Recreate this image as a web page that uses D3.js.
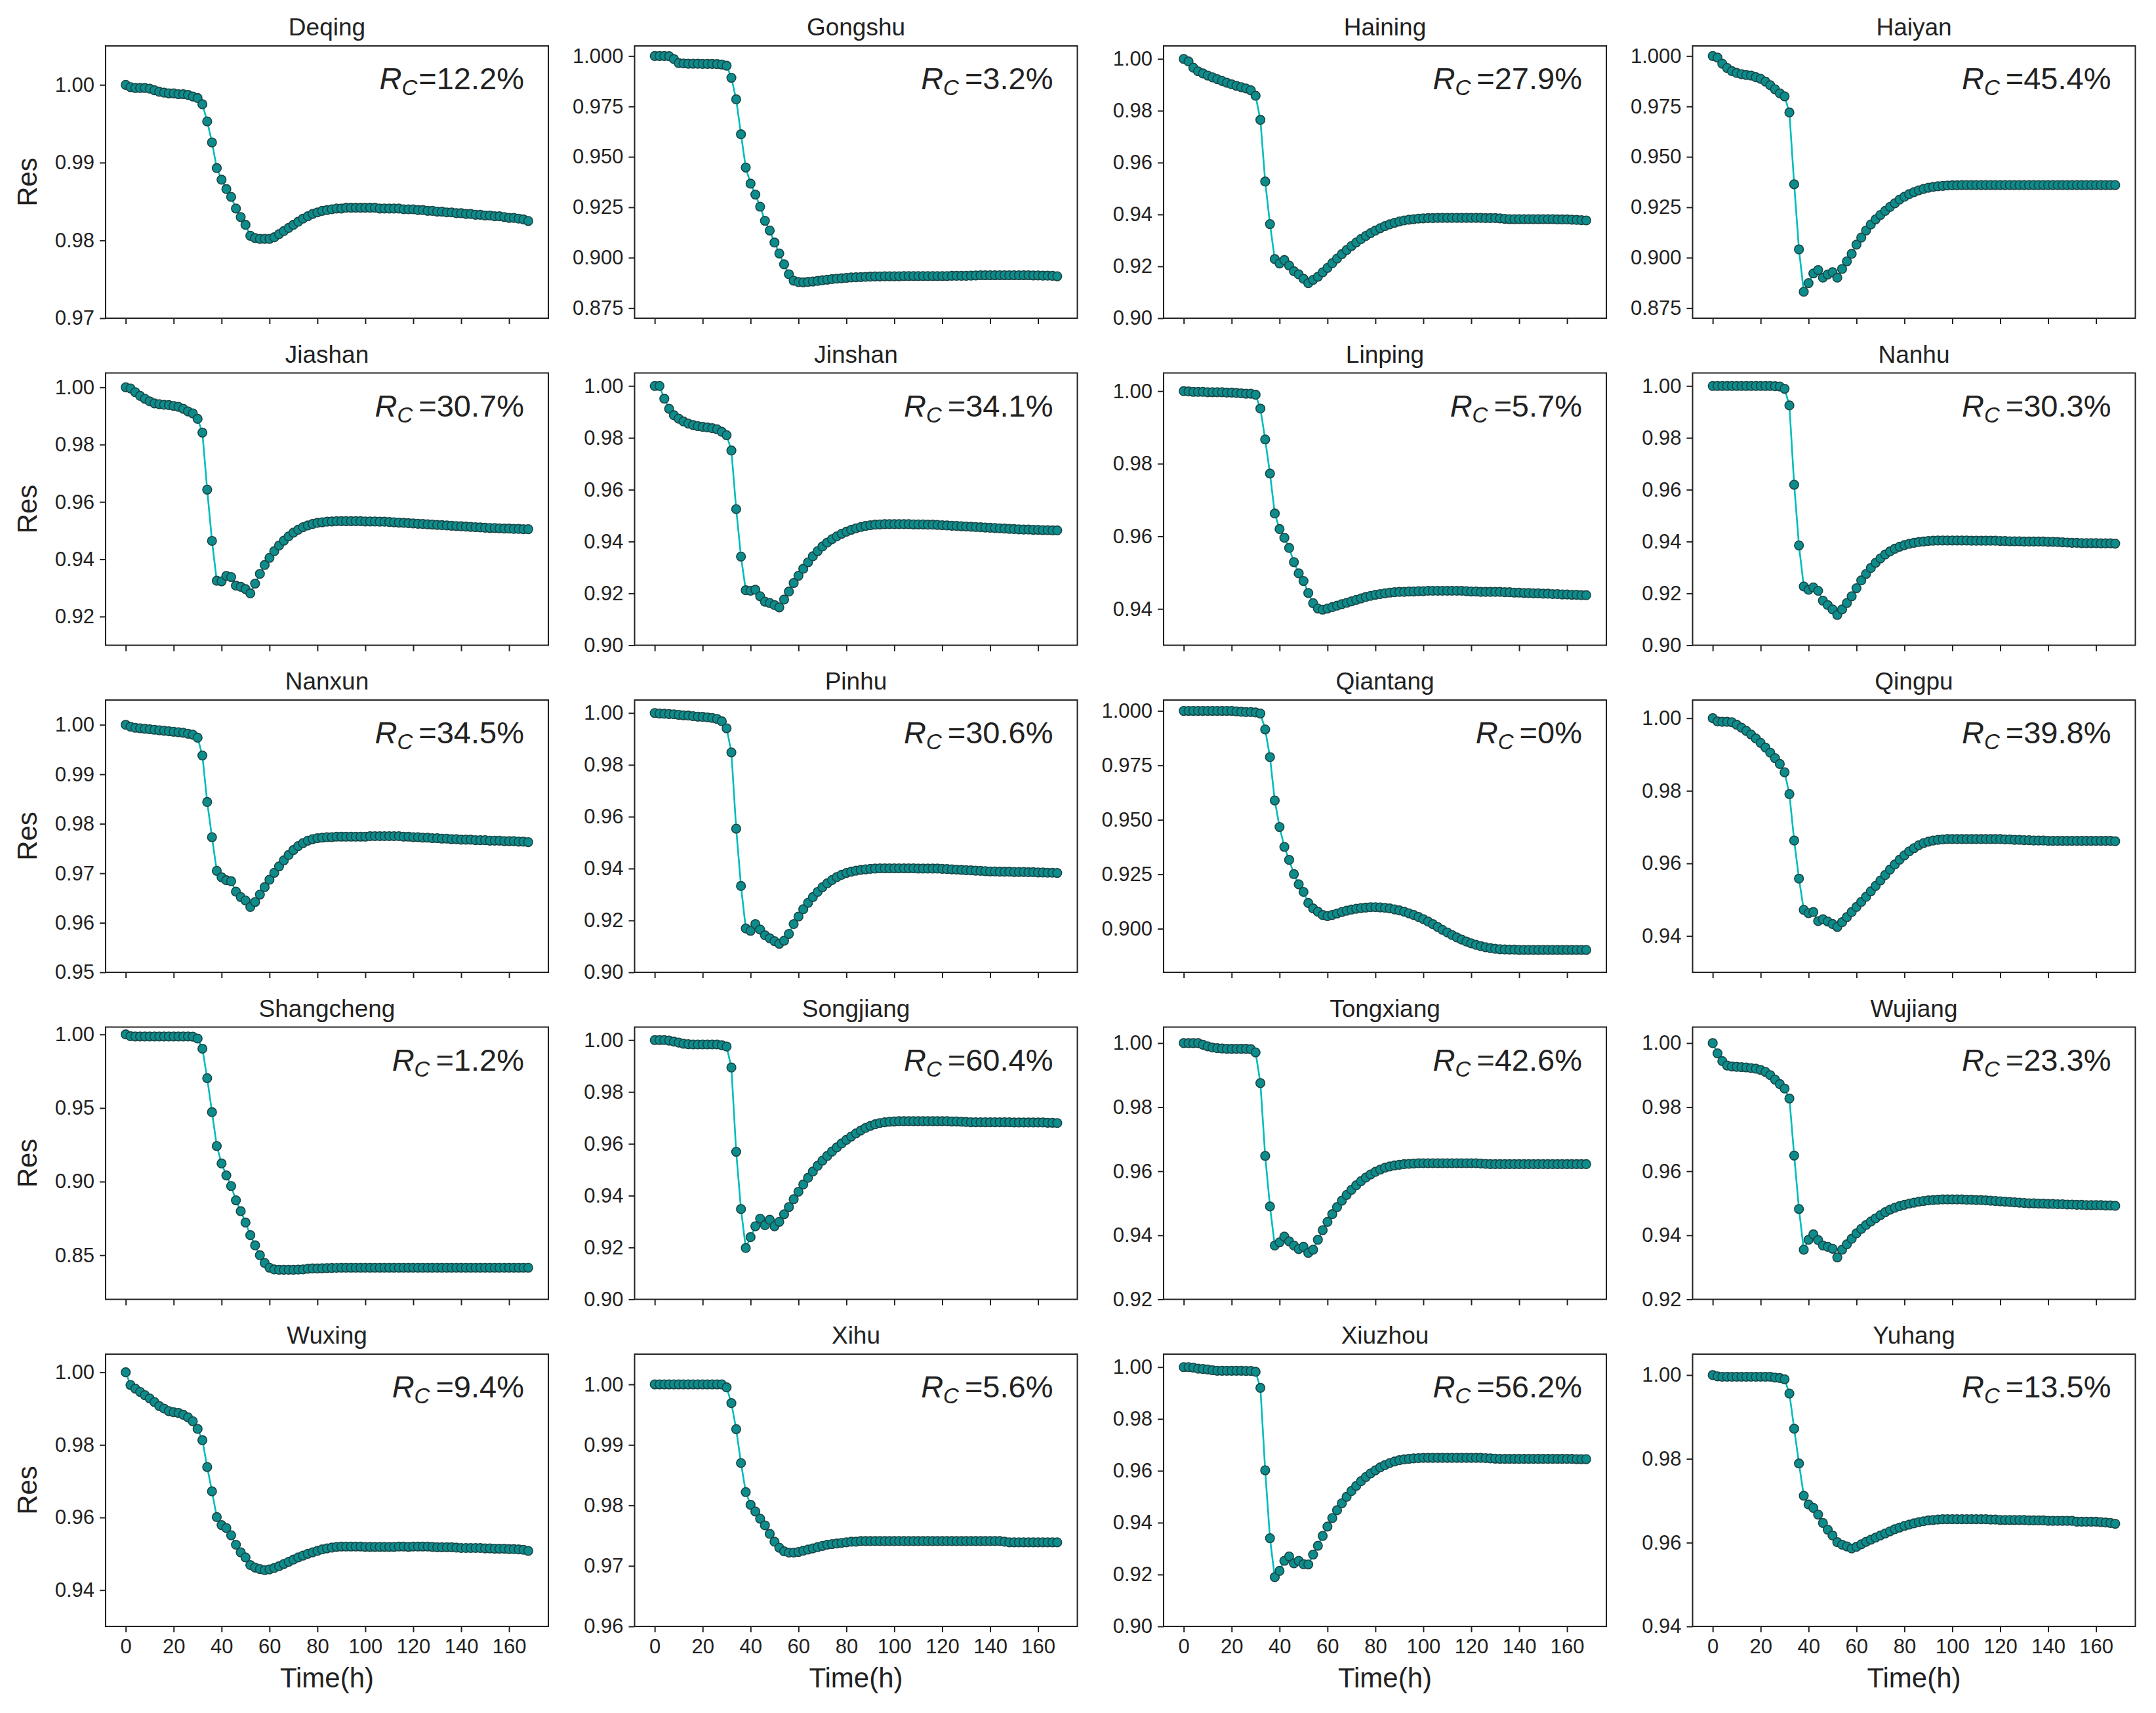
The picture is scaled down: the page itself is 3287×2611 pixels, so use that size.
<!DOCTYPE html>
<html>
<head>
<meta charset="utf-8">
<script src="https://cdn.jsdelivr.net/npm/d3@7"></script>
<style>
  body { margin: 0; background: #fff; }
  text { font-family: "Liberation Sans", Arial, sans-serif; fill: #222; }
</style>
</head>
<body>
<div id="plot"></div>
<script>
// Time axis (hours), one sample every 2 h
var hours = [0,2,4,6,8,10,12,14,16,18,20,22,24,26,28,30,32,34,36,38,40,42,44,46,48,50,52,54,56,58,
  60,62,64,66,68,70,72,74,76,78,80,82,84,86,88,90,92,94,96,98,100,102,104,106,108,110,112,114,116,118,
  120,122,124,126,128,130,132,134,136,138,140,142,144,146,148,150,152,154,156,158,160,162,164,166,168];

var regions = ["Deqing","Gongshu","Haining","Haiyan","Jiashan","Jinshan","Linping","Nanhu","Nanxun","Pinhu",
  "Qiantang","Qingpu","Shangcheng","Songjiang","Tongxiang","Wujiang","Wuxing","Xihu","Xiuzhou","Yuhang"];

var rcValues = ["12.2%","3.2%","27.9%","45.4%","30.7%","34.1%","5.7%","30.3%","34.5%","30.6%",
  "0%","39.8%","1.2%","60.4%","42.6%","23.3%","9.4%","5.6%","56.2%","13.5%"];

// lower limit of each y axis
var yBottom = [0.97,0.87,0.90,0.87,0.91,0.90,0.93,0.90,0.95,0.90,0.88,0.93,0.82,0.90,0.92,0.92,0.93,0.96,0.90,0.94];

var yTickSets = [
  [0.97,0.98,0.99,1.00],
  [0.875,0.900,0.925,0.950,0.975,1.000],
  [0.90,0.92,0.94,0.96,0.98,1.00],
  [0.875,0.900,0.925,0.950,0.975,1.000],
  [0.92,0.94,0.96,0.98,1.00],
  [0.90,0.92,0.94,0.96,0.98,1.00],
  [0.94,0.96,0.98,1.00],
  [0.90,0.92,0.94,0.96,0.98,1.00],
  [0.95,0.96,0.97,0.98,0.99,1.00],
  [0.90,0.92,0.94,0.96,0.98,1.00],
  [0.900,0.925,0.950,0.975,1.000],
  [0.94,0.96,0.98,1.00],
  [0.85,0.90,0.95,1.00],
  [0.90,0.92,0.94,0.96,0.98,1.00],
  [0.92,0.94,0.96,0.98,1.00],
  [0.92,0.94,0.96,0.98,1.00],
  [0.94,0.96,0.98,1.00],
  [0.96,0.97,0.98,0.99,1.00],
  [0.90,0.92,0.94,0.96,0.98,1.00],
  [0.94,0.96,0.98,1.00]
];
var yTickDecimals = [2,3,2,3,2,2,2,2,2,2,3,2,2,2,2,2,2,2,2,2];
var xTicks = [0,20,40,60,80,100,120,140,160];

var deqing = [
  1.0000,0.9997,0.9996,0.9996,0.9996,0.9995,0.9993,0.9991,0.9990,0.9989,
  0.9989,0.9988,0.9988,0.9987,0.9985,0.9983,0.9975,0.9953,0.9926,0.9893,
  0.9878,0.9866,0.9856,0.9841,0.9830,0.9820,0.9806,0.9803,0.9802,0.9802,
  0.9802,0.9804,0.9808,0.9812,0.9816,0.9820,0.9824,0.9828,0.9831,0.9834,
  0.9836,0.9838,0.9839,0.9840,0.9841,0.9841,0.9842,0.9842,0.9842,0.9842,
  0.9842,0.9842,0.9842,0.9841,0.9841,0.9841,0.9841,0.9841,0.9840,0.9840,
  0.9840,0.9839,0.9839,0.9838,0.9838,0.9837,0.9837,0.9836,0.9836,0.9835,
  0.9835,0.9834,0.9834,0.9833,0.9833,0.9832,0.9832,0.9831,0.9831,0.9830,
  0.9829,0.9829,0.9828,0.9827,0.9825];
var gongshu = [
  1.0000,1.0000,1.0000,0.9999,0.9985,0.9965,0.9963,0.9962,0.9962,0.9962,
  0.9961,0.9961,0.9961,0.9960,0.9958,0.9952,0.9892,0.9785,0.9612,0.9447,
  0.9367,0.9313,0.9253,0.9183,0.9135,0.9075,0.9021,0.8967,0.8918,0.8886,
  0.8879,0.8878,0.8880,0.8882,0.8885,0.8888,0.8891,0.8894,0.8896,0.8898,
  0.8900,0.8902,0.8903,0.8904,0.8905,0.8906,0.8907,0.8907,0.8908,0.8908,
  0.8908,0.8908,0.8909,0.8909,0.8909,0.8909,0.8909,0.8909,0.8909,0.8909,
  0.8909,0.8909,0.8910,0.8910,0.8910,0.8910,0.8911,0.8912,0.8913,0.8913,
  0.8913,0.8913,0.8913,0.8913,0.8913,0.8913,0.8913,0.8913,0.8913,0.8912,
  0.8912,0.8911,0.8911,0.8910,0.8908];
var haining = [
  1.0000,0.9990,0.9966,0.9952,0.9944,0.9936,0.9929,0.9922,0.9915,0.9908,
  0.9902,0.9896,0.9891,0.9886,0.9879,0.9858,0.9765,0.9527,0.9363,0.9228,
  0.9211,0.9224,0.9203,0.9181,0.9169,0.9152,0.9135,0.9148,0.9160,0.9177,
  0.9194,0.9212,0.9230,0.9247,0.9263,0.9278,0.9292,0.9305,0.9317,0.9328,
  0.9338,0.9347,0.9355,0.9362,0.9368,0.9373,0.9377,0.9380,0.9382,0.9384,
  0.9385,0.9386,0.9386,0.9387,0.9387,0.9387,0.9387,0.9387,0.9387,0.9387,
  0.9387,0.9387,0.9387,0.9386,0.9386,0.9386,0.9385,0.9383,0.9382,0.9382,
  0.9382,0.9382,0.9382,0.9382,0.9382,0.9382,0.9382,0.9382,0.9381,0.9381,
  0.9381,0.9380,0.9379,0.9378,0.9377];
var haiyan = [
  1.0000,0.9992,0.9962,0.9941,0.9925,0.9916,0.9910,0.9906,0.9903,0.9895,
  0.9887,0.9873,0.9855,0.9835,0.9815,0.9800,0.9720,0.9364,0.9041,0.8831,
  0.8874,0.8922,0.8939,0.8901,0.8917,0.8928,0.8901,0.8944,0.8982,0.9019,
  0.9065,0.9100,0.9135,0.9165,0.9190,0.9212,0.9232,0.9252,0.9270,0.9288,
  0.9302,0.9315,0.9325,0.9334,0.9341,0.9347,0.9351,0.9354,0.9356,0.9358,
  0.9359,0.9359,0.9360,0.9360,0.9360,0.9360,0.9360,0.9360,0.9360,0.9360,
  0.9360,0.9360,0.9360,0.9360,0.9360,0.9360,0.9360,0.9360,0.9360,0.9360,
  0.9360,0.9360,0.9360,0.9360,0.9360,0.9360,0.9360,0.9360,0.9360,0.9360,
  0.9360,0.9360,0.9360,0.9360,0.9360];
var jiashan = [
  1.0000,0.9996,0.9983,0.9970,0.9960,0.9951,0.9944,0.9941,0.9939,0.9938,
  0.9935,0.9932,0.9925,0.9916,0.9909,0.9890,0.9842,0.9643,0.9464,0.9325,
  0.9323,0.9342,0.9338,0.9308,0.9304,0.9296,0.9281,0.9315,0.9349,0.9380,
  0.9405,0.9428,0.9448,0.9465,0.9480,0.9493,0.9503,0.9512,0.9518,0.9523,
  0.9527,0.9529,0.9531,0.9532,0.9533,0.9533,0.9533,0.9533,0.9533,0.9533,
  0.9532,0.9532,0.9532,0.9531,0.9531,0.9530,0.9529,0.9528,0.9527,0.9526,
  0.9525,0.9524,0.9523,0.9522,0.9521,0.9520,0.9519,0.9518,0.9517,0.9516,
  0.9515,0.9514,0.9513,0.9512,0.9511,0.9510,0.9509,0.9509,0.9508,0.9507,
  0.9507,0.9506,0.9506,0.9505,0.9505];
var jinshan = [
  1.0000,1.0000,0.9951,0.9912,0.9887,0.9874,0.9863,0.9855,0.9849,0.9845,
  0.9842,0.9840,0.9837,0.9833,0.9823,0.9810,0.9751,0.9525,0.9342,0.9212,
  0.9210,0.9214,0.9189,0.9168,0.9163,0.9155,0.9146,0.9176,0.9207,0.9240,
  0.9268,0.9295,0.9320,0.9343,0.9363,0.9381,0.9396,0.9409,0.9420,0.9430,
  0.9438,0.9445,0.9451,0.9456,0.9460,0.9463,0.9465,0.9466,0.9467,0.9467,
  0.9467,0.9467,0.9467,0.9467,0.9466,0.9466,0.9466,0.9465,0.9465,0.9464,
  0.9463,0.9462,0.9461,0.9460,0.9459,0.9458,0.9457,0.9456,0.9455,0.9454,
  0.9453,0.9452,0.9451,0.9450,0.9449,0.9448,0.9447,0.9446,0.9446,0.9445,
  0.9445,0.9444,0.9444,0.9443,0.9443];
var linping = [
  1.0000,0.9999,0.9998,0.9998,0.9998,0.9997,0.9997,0.9997,0.9997,0.9996,
  0.9996,0.9995,0.9994,0.9993,0.9993,0.9990,0.9952,0.9867,0.9773,0.9663,
  0.9620,0.9596,0.9568,0.9529,0.9498,0.9477,0.9444,0.9416,0.9401,0.9398,
  0.9401,0.9405,0.9409,0.9413,0.9417,0.9421,0.9425,0.9429,0.9433,0.9436,
  0.9439,0.9441,0.9443,0.9445,0.9446,0.9447,0.9447,0.9448,0.9448,0.9449,
  0.9449,0.9450,0.9450,0.9450,0.9450,0.9450,0.9450,0.9450,0.9450,0.9449,
  0.9448,0.9448,0.9447,0.9447,0.9447,0.9447,0.9447,0.9446,0.9446,0.9445,
  0.9445,0.9444,0.9444,0.9443,0.9443,0.9442,0.9442,0.9441,0.9441,0.9440,
  0.9440,0.9439,0.9439,0.9438,0.9438];
var nanhu = [
  1.0000,1.0000,1.0000,1.0000,1.0000,1.0000,1.0000,1.0000,1.0000,1.0000,
  1.0000,1.0000,1.0000,0.9999,0.9998,0.9989,0.9925,0.9619,0.9385,0.9227,
  0.9214,0.9223,0.9210,0.9172,0.9155,0.9138,0.9117,0.9138,0.9163,0.9189,
  0.9220,0.9250,0.9275,0.9298,0.9318,0.9335,0.9350,0.9362,0.9372,0.9380,
  0.9386,0.9391,0.9395,0.9398,0.9400,0.9402,0.9403,0.9404,0.9404,0.9404,
  0.9404,0.9404,0.9404,0.9404,0.9403,0.9403,0.9403,0.9403,0.9403,0.9403,
  0.9402,0.9402,0.9401,0.9401,0.9401,0.9400,0.9400,0.9400,0.9400,0.9400,
  0.9399,0.9399,0.9398,0.9397,0.9396,0.9395,0.9395,0.9394,0.9394,0.9394,
  0.9394,0.9393,0.9393,0.9393,0.9392];
var nanxun = [
  1.0000,0.9996,0.9994,0.9993,0.9992,0.9991,0.9990,0.9989,0.9988,0.9987,
  0.9986,0.9985,0.9984,0.9982,0.9980,0.9974,0.9938,0.9844,0.9773,0.9705,
  0.9692,0.9686,0.9684,0.9663,0.9652,0.9645,0.9632,0.9642,0.9657,0.9672,
  0.9687,0.9701,0.9714,0.9726,0.9737,0.9747,0.9755,0.9761,0.9766,0.9769,
  0.9771,0.9772,0.9773,0.9773,0.9774,0.9774,0.9774,0.9774,0.9774,0.9774,
  0.9774,0.9775,0.9775,0.9775,0.9775,0.9775,0.9775,0.9775,0.9774,0.9774,
  0.9773,0.9773,0.9772,0.9772,0.9771,0.9771,0.9770,0.9770,0.9769,0.9769,
  0.9768,0.9768,0.9768,0.9767,0.9767,0.9767,0.9766,0.9766,0.9766,0.9765,
  0.9765,0.9765,0.9764,0.9764,0.9763];
var pinhu = [
  1.0000,0.9998,0.9997,0.9996,0.9995,0.9993,0.9991,0.9990,0.9988,0.9986,
  0.9985,0.9983,0.9981,0.9977,0.9968,0.9941,0.9848,0.9554,0.9333,0.9169,
  0.9160,0.9186,0.9165,0.9143,0.9131,0.9120,0.9110,0.9122,0.9148,0.9186,
  0.9215,0.9243,0.9268,0.9290,0.9310,0.9328,0.9343,0.9356,0.9367,0.9376,
  0.9383,0.9388,0.9392,0.9395,0.9397,0.9399,0.9400,0.9401,0.9401,0.9401,
  0.9401,0.9401,0.9401,0.9401,0.9401,0.9400,0.9400,0.9400,0.9400,0.9400,
  0.9399,0.9398,0.9397,0.9396,0.9395,0.9394,0.9393,0.9392,0.9391,0.9390,
  0.9389,0.9389,0.9388,0.9388,0.9388,0.9387,0.9387,0.9387,0.9386,0.9386,
  0.9385,0.9385,0.9384,0.9384,0.9383];
var qiantang = [
  1.0000,1.0000,1.0000,1.0000,1.0000,1.0000,1.0000,1.0000,1.0000,1.0000,
  1.0000,0.9998,0.9996,0.9995,0.9995,0.9993,0.9988,0.9915,0.9788,0.9589,
  0.9467,0.9376,0.9316,0.9251,0.9204,0.9169,0.9118,0.9093,0.9078,0.9063,
  0.9058,0.9063,0.9070,0.9077,0.9083,0.9088,0.9092,0.9095,0.9097,0.9099,
  0.9099,0.9098,0.9096,0.9093,0.9089,0.9084,0.9078,0.9071,0.9063,0.9054,
  0.9044,0.9033,0.9021,0.9008,0.8995,0.8983,0.8971,0.8960,0.8950,0.8941,
  0.8933,0.8926,0.8920,0.8915,0.8911,0.8908,0.8906,0.8905,0.8904,0.8904,
  0.8903,0.8903,0.8903,0.8903,0.8903,0.8903,0.8903,0.8903,0.8903,0.8903,
  0.8903,0.8903,0.8903,0.8903,0.8903];
var qingpu = [
  1.0000,0.9991,0.9990,0.9990,0.9989,0.9982,0.9974,0.9965,0.9955,0.9944,
  0.9932,0.9919,0.9905,0.9890,0.9874,0.9851,0.9791,0.9663,0.9558,0.9472,
  0.9463,0.9466,0.9441,0.9446,0.9440,0.9433,0.9425,0.9438,0.9452,0.9466,
  0.9480,0.9494,0.9508,0.9523,0.9538,0.9553,0.9568,0.9583,0.9597,0.9610,
  0.9622,0.9633,0.9642,0.9650,0.9656,0.9660,0.9663,0.9665,0.9666,0.9667,
  0.9667,0.9667,0.9667,0.9667,0.9667,0.9667,0.9667,0.9667,0.9667,0.9667,
  0.9667,0.9666,0.9666,0.9665,0.9665,0.9664,0.9664,0.9663,0.9663,0.9663,
  0.9662,0.9662,0.9662,0.9662,0.9662,0.9662,0.9662,0.9662,0.9662,0.9662,
  0.9662,0.9662,0.9662,0.9662,0.9661];
var shangcheng = [
  1.0000,0.9988,0.9986,0.9986,0.9986,0.9986,0.9986,0.9986,0.9986,0.9986,
  0.9986,0.9986,0.9986,0.9986,0.9985,0.9972,0.9903,0.9703,0.9472,0.9242,
  0.9123,0.9042,0.8970,0.8873,0.8799,0.8722,0.8636,0.8567,0.8500,0.8447,
  0.8415,0.8403,0.8401,0.8401,0.8401,0.8401,0.8402,0.8403,0.8408,0.8410,
  0.8410,0.8411,0.8412,0.8413,0.8414,0.8415,0.8415,0.8415,0.8415,0.8415,
  0.8415,0.8415,0.8415,0.8415,0.8415,0.8415,0.8415,0.8415,0.8415,0.8415,
  0.8415,0.8415,0.8415,0.8415,0.8415,0.8415,0.8415,0.8415,0.8415,0.8415,
  0.8415,0.8415,0.8415,0.8415,0.8415,0.8415,0.8415,0.8415,0.8415,0.8415,
  0.8415,0.8415,0.8415,0.8415,0.8415];
var songjiang = [
  1.0000,1.0000,1.0000,0.9998,0.9994,0.9990,0.9986,0.9984,0.9983,0.9983,
  0.9983,0.9983,0.9983,0.9983,0.9980,0.9975,0.9894,0.9569,0.9348,0.9198,
  0.9240,0.9282,0.9311,0.9286,0.9307,0.9282,0.9299,0.9328,0.9356,0.9386,
  0.9415,0.9443,0.9469,0.9493,0.9515,0.9535,0.9553,0.9570,0.9586,0.9601,
  0.9615,0.9628,0.9640,0.9651,0.9661,0.9669,0.9675,0.9680,0.9683,0.9685,
  0.9686,0.9687,0.9687,0.9687,0.9687,0.9687,0.9687,0.9687,0.9687,0.9687,
  0.9687,0.9687,0.9686,0.9686,0.9685,0.9684,0.9683,0.9683,0.9683,0.9683,
  0.9683,0.9683,0.9683,0.9683,0.9683,0.9682,0.9682,0.9682,0.9682,0.9682,
  0.9682,0.9682,0.9681,0.9681,0.9680];
var tongxiang = [
  1.0000,1.0000,1.0000,1.0000,0.9995,0.9990,0.9986,0.9984,0.9983,0.9982,
  0.9982,0.9982,0.9982,0.9982,0.9981,0.9971,0.9875,0.9648,0.9490,0.9368,
  0.9378,0.9396,0.9381,0.9368,0.9357,0.9364,0.9345,0.9355,0.9386,0.9416,
  0.9442,0.9466,0.9488,0.9508,0.9526,0.9542,0.9556,0.9569,0.9580,0.9590,
  0.9598,0.9605,0.9611,0.9615,0.9618,0.9620,0.9622,0.9623,0.9624,0.9625,
  0.9625,0.9625,0.9625,0.9625,0.9625,0.9625,0.9625,0.9625,0.9625,0.9625,
  0.9625,0.9625,0.9624,0.9623,0.9622,0.9622,0.9622,0.9622,0.9622,0.9622,
  0.9622,0.9622,0.9622,0.9622,0.9622,0.9622,0.9622,0.9622,0.9622,0.9622,
  0.9622,0.9622,0.9622,0.9622,0.9622];
var wujiang = [
  1.0000,0.9968,0.9944,0.9930,0.9927,0.9926,0.9925,0.9924,0.9922,0.9920,
  0.9916,0.9910,0.9900,0.9886,0.9872,0.9858,0.9827,0.9649,0.9482,0.9355,
  0.9386,0.9403,0.9385,0.9368,0.9364,0.9358,0.9331,0.9355,0.9372,0.9389,
  0.9406,0.9420,0.9432,0.9443,0.9453,0.9463,0.9472,0.9480,0.9486,0.9491,
  0.9495,0.9499,0.9502,0.9505,0.9507,0.9509,0.9510,0.9511,0.9512,0.9512,
  0.9512,0.9512,0.9512,0.9511,0.9511,0.9510,0.9510,0.9509,0.9508,0.9507,
  0.9506,0.9505,0.9504,0.9503,0.9502,0.9501,0.9500,0.9500,0.9499,0.9499,
  0.9498,0.9498,0.9497,0.9497,0.9496,0.9496,0.9495,0.9495,0.9494,0.9494,
  0.9494,0.9494,0.9493,0.9493,0.9492];
var wuxing = [
  1.0000,0.9965,0.9955,0.9946,0.9937,0.9928,0.9918,0.9907,0.9900,0.9893,
  0.9890,0.9888,0.9883,0.9876,0.9865,0.9844,0.9813,0.9739,0.9672,0.9601,
  0.9579,0.9571,0.9551,0.9525,0.9504,0.9490,0.9469,0.9462,0.9458,0.9455,
  0.9457,0.9461,0.9466,0.9472,0.9478,0.9484,0.9490,0.9495,0.9500,0.9504,
  0.9508,0.9512,0.9515,0.9517,0.9519,0.9520,0.9520,0.9520,0.9520,0.9520,
  0.9519,0.9519,0.9519,0.9519,0.9519,0.9519,0.9519,0.9520,0.9520,0.9519,
  0.9520,0.9520,0.9520,0.9520,0.9519,0.9518,0.9518,0.9518,0.9518,0.9517,
  0.9516,0.9516,0.9516,0.9516,0.9516,0.9515,0.9515,0.9514,0.9514,0.9514,
  0.9513,0.9513,0.9512,0.9511,0.9508];
var xihu = [
  1.0000,1.0000,1.0000,1.0000,1.0000,1.0000,1.0000,1.0000,1.0000,1.0000,
  1.0000,1.0000,1.0000,1.0000,1.0000,0.9995,0.9969,0.9926,0.9870,0.9822,
  0.9801,0.9790,0.9778,0.9767,0.9753,0.9740,0.9730,0.9724,0.9722,0.9722,
  0.9723,0.9725,0.9727,0.9729,0.9731,0.9733,0.9735,0.9736,0.9737,0.9738,
  0.9739,0.9740,0.9740,0.9741,0.9741,0.9741,0.9741,0.9741,0.9741,0.9741,
  0.9741,0.9741,0.9741,0.9741,0.9741,0.9741,0.9741,0.9741,0.9741,0.9741,
  0.9741,0.9741,0.9741,0.9741,0.9741,0.9741,0.9741,0.9741,0.9741,0.9741,
  0.9741,0.9741,0.9741,0.9740,0.9739,0.9739,0.9739,0.9739,0.9739,0.9739,
  0.9739,0.9739,0.9739,0.9739,0.9739];
var xiuzhou = [
  1.0000,1.0000,0.9998,0.9994,0.9993,0.9991,0.9988,0.9986,0.9986,0.9986,
  0.9986,0.9986,0.9986,0.9985,0.9985,0.9982,0.9920,0.9602,0.9340,0.9190,
  0.9214,0.9253,0.9270,0.9243,0.9253,0.9240,0.9239,0.9277,0.9311,0.9349,
  0.9385,0.9418,0.9448,0.9475,0.9500,0.9522,0.9542,0.9560,0.9576,0.9590,
  0.9602,0.9613,0.9622,0.9630,0.9636,0.9641,0.9644,0.9646,0.9648,0.9649,
  0.9650,0.9650,0.9650,0.9650,0.9650,0.9650,0.9650,0.9650,0.9650,0.9650,
  0.9650,0.9650,0.9650,0.9649,0.9648,0.9647,0.9646,0.9646,0.9646,0.9646,
  0.9646,0.9646,0.9646,0.9646,0.9646,0.9646,0.9646,0.9646,0.9646,0.9646,
  0.9646,0.9646,0.9645,0.9645,0.9645];
var yuhang = [
  1.0000,0.9997,0.9996,0.9996,0.9996,0.9996,0.9996,0.9996,0.9996,0.9996,
  0.9996,0.9996,0.9996,0.9994,0.9993,0.9990,0.9956,0.9872,0.9789,0.9712,
  0.9691,0.9683,0.9667,0.9647,0.9631,0.9617,0.9601,0.9595,0.9591,0.9586,
  0.9590,0.9596,0.9602,0.9607,0.9612,0.9617,0.9622,0.9627,0.9632,0.9636,
  0.9640,0.9643,0.9646,0.9649,0.9651,0.9653,0.9654,0.9655,0.9656,0.9656,
  0.9656,0.9656,0.9656,0.9656,0.9656,0.9656,0.9656,0.9656,0.9655,0.9655,
  0.9654,0.9654,0.9654,0.9654,0.9654,0.9654,0.9653,0.9653,0.9653,0.9653,
  0.9652,0.9652,0.9652,0.9652,0.9652,0.9652,0.9650,0.9650,0.9650,0.9650,
  0.9650,0.9649,0.9648,0.9647,0.9645];

var series = [deqing, gongshu, haining, haiyan, jiashan, jinshan, linping, nanhu, nanxun, pinhu,
  qiantang, qingpu, shangcheng, songjiang, tongxiang, wujiang, wuxing, xihu, xiuzhou, yuhang];

// Figure layout
var W = 3287, H = 2611;
var left0 = 161, colStep = 806.5, top0 = 70, rowStep = 498.5;
var pw = 675, ph = 415;
var yTop = 1.005;

var svg = d3.select("#plot")
    .append("svg")
    .attr("width", W)
    .attr("height", H)
    .style("background", "#fff");

var x = d3.scaleLinear()
    .domain([-8.4, 176.4])
    .range([0, pw]);

regions.forEach(function(name, i){
    var col = i % 4, row = Math.floor(i / 4);
    var g = svg.append("g")
        .attr("transform", "translate(" + (left0 + col * colStep) + "," + (top0 + row * rowStep) + ")");

    var y = d3.scaleLinear()
        .domain([yBottom[i], yTop])
        .range([ph, 0]);

    // Y axis
    var yAxis = g.append("g")
        .call(d3.axisLeft(y)
            .tickValues(yTickSets[i])
            .tickFormat(d3.format("." + yTickDecimals[i] + "f"))
            .tickSize(9)
            .tickPadding(8));
    yAxis.select(".domain").remove();
    yAxis.selectAll("line").attr("stroke", "#222").attr("stroke-width", 2);
    yAxis.selectAll("text").attr("font-size", 31).attr("fill", "#222")
        .style("font-family", "'Liberation Sans', Arial, sans-serif");

    // X axis, labels only on bottom row
    var xAxis = g.append("g")
        .attr("transform", "translate(0," + ph + ")")
        .call(d3.axisBottom(x)
            .tickValues(xTicks)
            .tickFormat(row === 4 ? d3.format("d") : function(){ return ""; })
            .tickSize(9)
            .tickPadding(10));
    xAxis.select(".domain").remove();
    xAxis.selectAll("line").attr("stroke", "#222").attr("stroke-width", 2);
    xAxis.selectAll("text").attr("font-size", 31).attr("fill", "#222")
        .style("font-family", "'Liberation Sans', Arial, sans-serif");

    // Line + dots
    var pts = hours.map(function(h, k){ return [h, series[i][k]]; });
    var line = d3.line()
        .x(function(d){ return x(d[0]); })
        .y(function(d){ return y(d[1]); });

    g.append("path")
        .datum(pts)
        .attr("fill", "none")
        .attr("stroke", "#00bcbc")
        .attr("stroke-width", 2.6)
        .attr("d", line);

    g.append("g")
        .selectAll("circle")
        .data(pts)
        .enter()
        .append("circle")
        .attr("cx", function(d){ return x(d[0]); })
        .attr("cy", function(d){ return y(d[1]); })
        .attr("r", 6.8)
        .attr("fill", "#0d8c8c")
        .attr("stroke", "#1b4646")
        .attr("stroke-width", 1.6);

    // Frame
    g.append("rect")
        .attr("width", pw)
        .attr("height", ph)
        .attr("fill", "none")
        .attr("stroke", "#222")
        .attr("stroke-width", 2);

    // Title
    g.append("text")
        .attr("x", pw / 2)
        .attr("y", -16)
        .attr("text-anchor", "middle")
        .attr("font-size", 37)
        .text(name);

    // R_C annotation
    var rc = g.append("text")
        .attr("x", pw - 37)
        .attr("y", 66)
        .attr("text-anchor", "end")
        .attr("font-size", 47);
    rc.append("tspan").attr("font-style", "italic").text("R");
    rc.append("tspan").attr("font-style", "italic").attr("font-size", 33).attr("dy", 9).text("C");
    rc.append("tspan").attr("dy", -9).attr("dx", i === 0 ? 2 : 9).text("=" + rcValues[i]);

    // Axis labels
    if (col === 0) {
        g.append("text")
            .attr("transform", "translate(" + (-105) + "," + (ph / 2) + ") rotate(-90)")
            .attr("text-anchor", "middle")
            .attr("font-size", 42)
            .text("Res");
    }
    if (row === 4) {
        g.append("text")
            .attr("x", pw / 2)
            .attr("y", ph + 93)
            .attr("text-anchor", "middle")
            .attr("font-size", 42)
            .text("Time(h)");
    }
});
</script>
</body>
</html>
